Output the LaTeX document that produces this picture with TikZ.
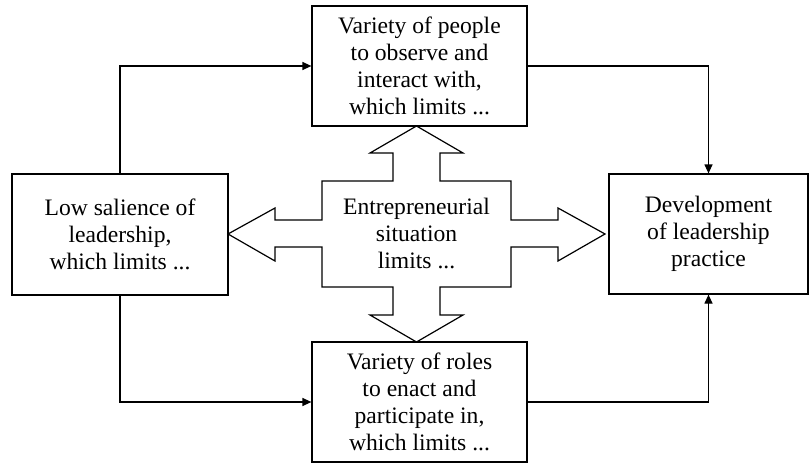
\documentclass[tikz,border=0pt]{standalone}
\usepackage{fontspec}
\setmainfont{Liberation Serif}
\usetikzlibrary{arrows.meta}
\begin{document}
\begin{tikzpicture}[x=1pt,y=-1pt,
  box/.style={draw, line width=1.2pt, align=center, inner sep=0pt,
    font=\fontsize{23.6}{27}\selectfont},
  link/.style={line width=1.2pt, -{Triangle[length=9pt,width=8pt]}},
  bigarrow/.style={draw, line width=1.2pt, line join=miter}]
\useasboundingbox (0,0) rectangle (809,463);

% boxes
\node[box, minimum width=216pt, minimum height=121pt] (low) at (120,234.5)
  {Low salience of\\leadership,\\which limits ...};
\node[box, minimum width=215pt, minimum height=120pt] (people) at (419.5,66)
  {Variety of people\\to observe and\\interact with,\\which limits ...};
\node[box, minimum width=215pt, minimum height=120pt] (roles) at (419.5,402)
  {Variety of roles\\to enact and\\participate in,\\which limits ...};
\node[box, minimum width=199pt, minimum height=120pt] (dev) at (708.5,234)
  {Development\\of leadership\\practice};

% four-way block arrow
\draw[bigarrow]
  (416.5,126) -- (463,153) -- (440,153) -- (440,181) -- (511,181) -- (511,220)
  -- (558,220) -- (558,208) -- (605,234) -- (558,261) -- (558,247) -- (511,247)
  -- (511,287) -- (440,287) -- (440,315) -- (463,315) -- (416.5,342)
  -- (370,315) -- (393,315) -- (393,287) -- (322,287) -- (322,247) -- (275,247)
  -- (275,261) -- (228,234) -- (275,208) -- (275,220) -- (322,220) -- (322,181)
  -- (393,181) -- (393,153) -- (370,153) -- cycle;
\node[align=center, inner sep=0pt, font=\fontsize{23.6}{27}\selectfont] (situation)
  at (416.5,233) {Entrepreneurial\\situation\\limits ...};

% connectors
\draw[link] (low.north) |- (people.west);
\draw[link] (low.south) |- (roles.west);
\draw[link] (people.east) -| (dev.north);
\draw[link] (roles.east) -| (dev.south);
\end{tikzpicture}
\end{document}
